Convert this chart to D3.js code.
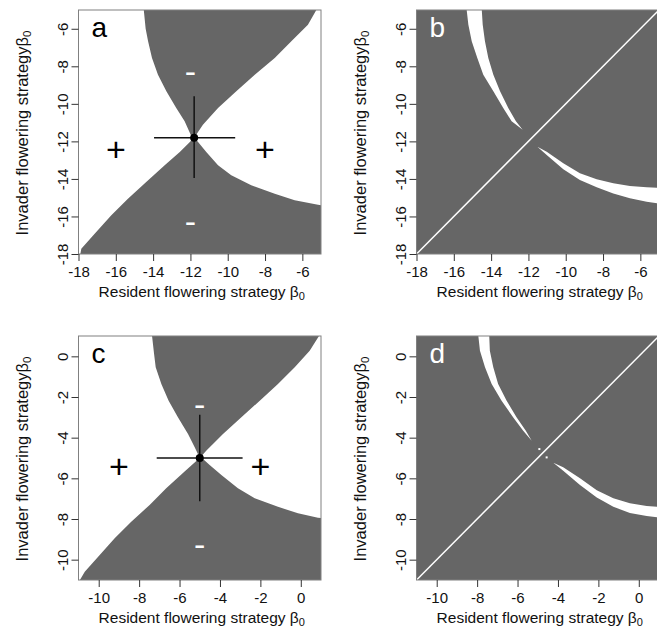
<!DOCTYPE html>
<html>
<head>
<meta charset="utf-8">
<title>Pairwise invasibility plots</title>
<script src="https://cdn.jsdelivr.net/npm/d3@7"></script>
<style>
  body { margin: 0; background: #fff; }
</style>
</head>
<body>
<svg width="657" height="633"></svg>
<script>
// ---- data (beta0 values) ----
var domainAB = [-18, -5];
var domainCD = [-11, 1];
var ticksAB = [-18, -16, -14, -12, -10, -8, -6];
var ticksCD = [-10, -8, -6, -4, -2, 0];

// panel a: borders of the two grey (non-invadable) regions
var aTopLeft = [[-14.5,-5],[-14.4,-6],[-14.27,-6.67],[-14.06,-7.56],[-13.74,-8.45],[-13.29,-9.33],[-12.76,-10.22],[-12.31,-10.93],[-11.95,-11.73],[-11.8,-11.8]];
var aTopRight = [[-11.8,-11.8],[-11.33,-11.11],[-10.52,-10.22],[-9.54,-9.33],[-8.55,-8.45],[-7.48,-7.56],[-6.59,-6.67],[-5.7,-5.78],[-5.25,-5]];
var aBottomLeft = [[-17.9,-18],[-17.85,-17.72],[-17.05,-16.83],[-16.24,-15.94],[-15.35,-15.05],[-14.37,-14.16],[-13.38,-13.27],[-12.57,-12.57],[-11.8,-11.8]];
var aBottomRight = [[-11.8,-11.8],[-11.59,-12.03],[-11.15,-12.57],[-10.52,-13.27],[-9.81,-13.81],[-8.74,-14.34],[-7.48,-14.79],[-6.41,-15.14],[-5.16,-15.37],[-5,-15.4]];
var aPoint = [-11.8, -11.8];
var aHBar = [-13.95, -9.6];
var aVBar = [-13.95, -9.6];
var aPlus = [[-16, -12.4], [-8, -12.4]];
var aMinus = [[-12, -8.1], [-12, -16.1]];

// panel b: white bands
var bUpperY = [-5, -5.78, -6.67, -7.56, -8.45, -9.33, -10.22, -10.93, -11.38];
var bUpperX0 = [-15.31, -15.22, -15.04, -14.74, -14.42, -13.88, -13.35, -12.9, -12.31];
var bUpperX1 = [-14.5, -14.45, -14.33, -14.15, -13.88, -13.52, -13.08, -12.67, -12.31];
var bLowerX = [-11.52, -11.02, -10.13, -9.24, -8.34, -7.45, -6.56, -5.66, -5];
var bLowerY0 = [-12.28, -12.55, -13.17, -13.7, -14.02, -14.23, -14.38, -14.45, -14.48];
var bLowerY1 = [-12.28, -12.73, -13.49, -14.06, -14.45, -14.77, -15.03, -15.21, -15.32];

// panel c
var cTopLeft = [[-7.36,1],[-7.26,0.11],[-7.18,-0.54],[-6.9,-1.36],[-6.54,-2.18],[-6.08,-3.0],[-5.58,-3.82],[-5.25,-4.47],[-5.05,-4.89],[-4.95,-4.95]];
var cTopRight = [[-4.95,-4.95],[-4.68,-4.64],[-3.85,-3.82],[-2.94,-3.0],[-2.03,-2.18],[-1.13,-1.36],[-0.3,-0.54],[0.44,0.28],[0.9,1]];
var cBottomLeft = [[-10.93,-11],[-10.69,-10.59],[-9.95,-9.77],[-9.21,-8.95],[-8.39,-8.13],[-7.48,-7.31],[-6.66,-6.49],[-5.75,-5.67],[-4.95,-4.95]];
var cBottomRight = [[-4.95,-4.95],[-4.51,-5.35],[-3.93,-5.84],[-3.11,-6.49],[-2.28,-6.98],[-1.13,-7.4],[-0.14,-7.72],[0.85,-7.94],[1,-7.95]];
var cPoint = [-5, -5];
var cHBar = [-7.13, -2.88];
var cVBar = [-7.13, -2.87];
var cPlus = [[-9, -5.4], [-2, -5.4]];
var cMinus = [[-5, -2.2], [-5, -9.1]];

// panel d: white bands
var dUpperY = [1, 0.28, -0.54, -1.36, -2.18, -3.0, -3.66, -4.15];
var dUpperX0 = [-7.94, -7.86, -7.61, -7.28, -6.79, -6.22, -5.72, -5.3];
var dUpperX1 = [-7.4, -7.37, -7.2, -6.96, -6.54, -6.05, -5.59, -5.3];
var dLowerX = [-4.23, -3.74, -2.91, -2.08, -1.26, -0.44, 0.39, 1];
var dLowerY0 = [-5.23, -5.46, -6.0, -6.58, -6.98, -7.23, -7.36, -7.4];
var dLowerY1 = [-5.23, -5.63, -6.33, -6.94, -7.4, -7.7, -7.85, -7.93];
var dDots = [[-4.92, -4.56], [-4.56, -4.97]];

// ---- drawing ----
var FONT = '"Liberation Sans", Arial, Helvetica, sans-serif';
var GRAY = "#666666";
var W = 242.5, H = 244;
var svg = d3.select("svg");
var fmt = function(d) { return String(d); };   // plain hyphen like R

function panel(id, left, top, domain, bg) {
  var x = d3.scaleLinear().domain(domain).range([left, left + W]);
  var y = d3.scaleLinear().domain(domain).range([top + H, top]);
  var g = svg.append("g");
  g.append("clipPath").attr("id", "clip-" + id)
    .append("rect").attr("x", left).attr("y", top).attr("width", W).attr("height", H);
  g.append("rect").attr("x", left).attr("y", top).attr("width", W).attr("height", H).attr("fill", bg);
  var plot = g.append("g").attr("clip-path", "url(#clip-" + id + ")");
  var line = d3.line().x(function(d) { return x(d[0]); }).y(function(d) { return y(d[1]); });
  return { x: x, y: y, g: g, plot: plot, line: line, left: left, top: top, domain: domain };
}

function finish(p, ticks, letter, letterColor) {
  var x = p.x, y = p.y;
  // box
  p.g.append("rect").attr("x", p.left).attr("y", p.top).attr("width", W).attr("height", H)
    .attr("fill", "none").attr("stroke", "#808080").attr("stroke-width", 1);

  var xa = p.g.append("g").attr("transform", "translate(0," + (p.top + H) + ")")
    .call(d3.axisBottom(x).tickValues(ticks).tickSize(7).tickPadding(5).tickFormat(fmt));
  xa.select(".domain").remove();
  xa.attr("font-size", 15).attr("font-family", FONT);
  xa.selectAll("line").attr("stroke", "#333");
  xa.selectAll("text").attr("fill", "#111");

  var ya = p.g.append("g").attr("transform", "translate(" + p.left + ",0)")
    .call(d3.axisLeft(y).tickValues(ticks).tickSize(7).tickFormat(fmt));
  ya.select(".domain").remove();
  ya.attr("font-size", 15).attr("font-family", FONT);
  ya.selectAll("line").attr("stroke", "#333");
  ya.selectAll("text").attr("fill", "#111")
    .attr("x", 0).attr("y", -10.5).attr("dy", null)
    .attr("text-anchor", "middle").attr("transform", "rotate(-90)");

  var xt = p.g.append("text").attr("x", p.left + W / 2 + 2).attr("y", p.top + H + 43)
    .attr("text-anchor", "middle").attr("font-size", 15.5).attr("font-family", FONT).attr("fill", "#111")
    .text("Resident flowering strategy \u03b2");
  xt.append("tspan").attr("font-size", 11).attr("dy", 3).text("0");

  var yt = p.g.append("text")
    .attr("transform", "translate(" + (p.left - 51) + "," + (p.top + H / 2 + 1) + ") rotate(-90)")
    .attr("text-anchor", "middle").attr("font-size", 16.5).attr("font-family", FONT).attr("fill", "#111")
    .text("Invader flowering strategy\u03b2");
  yt.append("tspan").attr("font-size", 11.5).attr("dy", 3).text("0");

  p.g.append("text").attr("x", p.left + 13).attr("y", p.top + 27)
    .attr("font-size", 28).attr("font-family", FONT).attr("fill", letterColor).text(letter);
}

function hourglass(p, topLeft, topRight, botLeft, botRight) {
  var xmax = p.domain[1], ymin = p.domain[0];
  p.plot.append("path").attr("d", p.line(topLeft.concat(topRight)) + "Z").attr("fill", GRAY);
  p.plot.append("path").attr("d", p.line(botLeft.concat(botRight, [[xmax, ymin]])) + "Z").attr("fill", GRAY);
}

function singular(p, pt, hbar, vbar, plus, minus) {
  var x = p.x, y = p.y;
  p.g.append("line").attr("x1", x(hbar[0])).attr("x2", x(hbar[1])).attr("y1", y(pt[1])).attr("y2", y(pt[1]))
    .attr("stroke", "#111").attr("stroke-width", 1.5);
  p.g.append("line").attr("x1", x(pt[0])).attr("x2", x(pt[0])).attr("y1", y(vbar[0])).attr("y2", y(vbar[1]))
    .attr("stroke", "#111").attr("stroke-width", 1.5);
  p.g.append("circle").attr("cx", x(pt[0])).attr("cy", y(pt[1])).attr("r", 4).attr("fill", "#000");
  p.g.selectAll(".plus").data(plus).enter().append("text")
    .attr("x", function(d) { return x(d[0]); }).attr("y", function(d) { return y(d[1]); })
    .attr("text-anchor", "middle").attr("dominant-baseline", "central")
    .attr("font-size", 34).attr("font-family", FONT).attr("fill", "#000").text("+");
  p.g.selectAll(".minus").data(minus).enter().append("text")
    .attr("x", function(d) { return x(d[0]); }).attr("y", function(d) { return y(d[1]); })
    .attr("dy", "0.08em")
    .attr("text-anchor", "middle").attr("dominant-baseline", "central")
    .attr("font-size", 34).attr("font-family", FONT).attr("fill", "#fff").text("-");
}

function bands(p, uy, ux0, ux1, lx, ly0, ly1) {
  var x = p.x, y = p.y;
  var vArea = d3.area().y(function(d) { return y(d); })
    .x0(function(d, i) { return x(ux0[i]); }).x1(function(d, i) { return x(ux1[i]); });
  var hArea = d3.area().x(function(d) { return x(d); })
    .y0(function(d, i) { return y(ly0[i]); }).y1(function(d, i) { return y(ly1[i]); });
  p.plot.append("path").datum(uy).attr("d", vArea).attr("fill", "#fff");
  p.plot.append("path").datum(lx).attr("d", hArea).attr("fill", "#fff");
  p.plot.append("line")
    .attr("x1", x(p.domain[0])).attr("y1", y(p.domain[0]))
    .attr("x2", x(p.domain[1])).attr("y2", y(p.domain[1]))
    .attr("stroke", "#fff").attr("stroke-width", 1.5);
}

var pa = panel("a", 78.5, 10, domainAB, "#fff");
hourglass(pa, aTopLeft, aTopRight, aBottomLeft, aBottomRight);
singular(pa, aPoint, aHBar, aVBar, aPlus, aMinus);
finish(pa, ticksAB, "a", "#000");

var pb = panel("b", 416.5, 10, domainAB, GRAY);
bands(pb, bUpperY, bUpperX0, bUpperX1, bLowerX, bLowerY0, bLowerY1);
finish(pb, ticksAB, "b", "#fff");

var pc = panel("c", 78.5, 336, domainCD, "#fff");
hourglass(pc, cTopLeft, cTopRight, cBottomLeft, cBottomRight);
singular(pc, cPoint, cHBar, cVBar, cPlus, cMinus);
finish(pc, ticksCD, "c", "#000");

var pd = panel("d", 416.5, 336, domainCD, GRAY);
bands(pd, dUpperY, dUpperX0, dUpperX1, dLowerX, dLowerY0, dLowerY1);
pd.plot.selectAll(".dot").data(dDots).enter().append("rect")
  .attr("x", function(d) { return pd.x(d[0]) - 1; }).attr("y", function(d) { return pd.y(d[1]) - 1; })
  .attr("width", 2).attr("height", 2).attr("fill", "#fff");
finish(pd, ticksCD, "d", "#fff");
</script>
</body>
</html>
